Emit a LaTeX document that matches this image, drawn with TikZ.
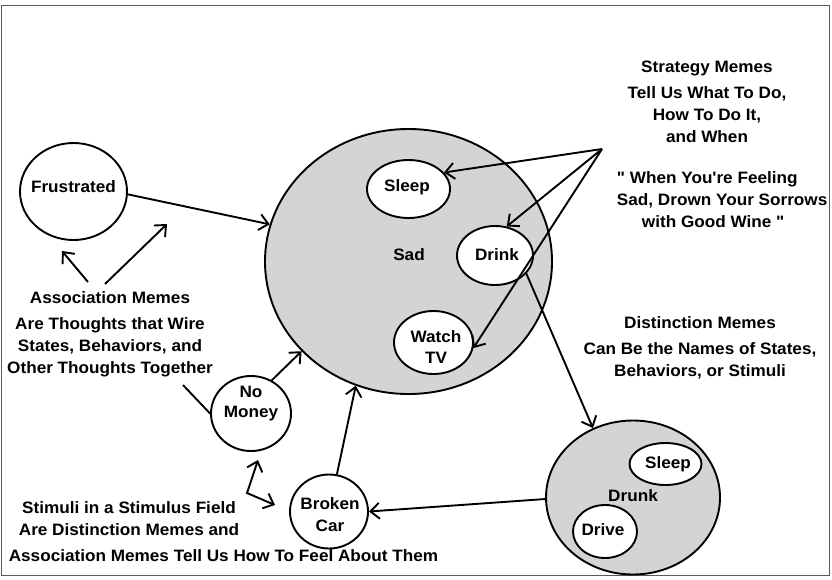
\documentclass[tikz,border=0pt]{standalone}
\usepackage{fontspec}
\setmainfont{Liberation Sans}[FakeStretch=1.04,Ligatures=TeXOff]
\usetikzlibrary{shapes.geometric,arrows.meta}
\definecolor{stategray}{RGB}{212,212,212}
\definecolor{framegray}{RGB}{90,90,90}

\begin{document}
\begin{tikzpicture}[x=1pt,y=-1pt,
  line width=1.9pt,
  >={Straight Barb[length=9pt,width=16pt]},
  state/.style={ellipse,draw,inner sep=0pt,fill=white},
  bigstate/.style={state,fill=stategray},
  lbl/.style={font=\bfseries\fontsize{16.5}{22}\selectfont,align=center,inner sep=0pt},
]
\useasboundingbox (0,0) rectangle (832,579);
\draw[framegray,line width=1.2pt] (1.5,5.5) rectangle (829.5,575.5);

% states
\node[bigstate,minimum width=287pt,minimum height=265pt] (sad) at (408.5,261.5) {};
\node[state,minimum width=83pt,minimum height=58pt] (sleepA) at (408.5,189) {};
\node[state,minimum width=76pt,minimum height=59pt] (drink) at (495,255.5) {};
\node[state,minimum width=79pt,minimum height=63pt] (watch) at (433.5,342.5) {};
\node[state,minimum width=107pt,minimum height=97pt] (frus) at (73.5,191.5) {};
\node[state,minimum width=80pt,minimum height=75pt] (nomoney) at (251,413.5) {};
\node[state,minimum width=78pt,minimum height=74pt] (broken) at (329,511.5) {};
\node[bigstate,minimum width=174pt,minimum height=154pt] (drunk) at (633,497.5) {};
\node[state,minimum width=72pt,minimum height=42pt] (sleepB) at (665.5,464) {};
\node[state,minimum width=64pt,minimum height=53pt] (drive) at (605,531.5) {};

% labels inside the states
\node[lbl] (sadlbl) at (409,255) {Sad};
\node[lbl] (sleepAlbl) at (407,187) {Sleep};
\node[lbl] (drinklbl) at (497,255) {Drink};
\node[lbl] (watchlbl) at (436,347) {Watch\\[-1pt]TV};
\node[lbl] (frustlbl) at (73.5,187) {Frustrated};
\node[lbl] (nomoneylbl) at (251,404) {No\\[-2pt]Money};
\node[lbl] (brokenlbl) at (330,515) {Broken\\Car};
\node[lbl] (drunklbl) at (633,496) {Drunk};
\node[lbl] (sleepBlbl) at (668,464) {Sleep};
\node[lbl] (drivelbl) at (603,530) {Drive};

% explanatory texts
\node[lbl] (assoc) at (110,334) {Association Memes\\[4pt]Are Thoughts that Wire\\States, Behaviors, and\\Other Thoughts Together};
\node[lbl] (strategy) at (707,102) {Strategy Memes\\[4pt]Tell Us What To Do,\\How To Do It,\\and When};
\node[lbl,align=left,anchor=west] (quote) at (616,200) {" When You're Feeling\\Sad, Drown Your Sorrows\\\hspace*{25pt}with Good Wine "};
\node[lbl] (distinct) at (700,348) {Distinction Memes\\[4pt]Can Be the Names of States,\\Behaviors, or Stimuli};
\node[lbl] (stimuli) at (129,519) {Stimuli in a Stimulus Field\\Are Distinction Memes and};
\node[lbl] (feel) at (223.5,556) {Association Memes Tell Us How To Feel About Them};

% free ends of the pointers
\coordinate (assocA) at (88,282);
\coordinate (assocAtip) at (62,251);
\coordinate (assocB) at (105,284);
\coordinate (assocBtip) at (167,224);
\coordinate (wire) at (183,385);
\coordinate (stimTip) at (258,460);
\coordinate (stimBend) at (247,493);
\coordinate (stimTipB) at (275,505);
\coordinate (strat) at (602,149);

% associations
\draw[->] (frus.-3) -- (sad.165);
\draw[->] (nomoney.58) -- (sad.220);
\draw[->] (broken.78) -- (sad.247);
\draw[->] (drink.-30) -- (drunk.120);
\draw[->] (drunk.181) -- (broken.east);
\draw[->] (assocA) -- (assocAtip);
\draw[->] (assocB) -- (assocBtip);
\draw (wire) -- (nomoney.west);
\draw[<->] (stimTip) -- (stimBend) -- (stimTipB);

% strategies
\draw[->] (strat) -- (sleepA.25);
\draw[->] (strat) -- (drink.68);
\draw[->] (strat) -- (watch.-8);
\end{tikzpicture}
\end{document}
